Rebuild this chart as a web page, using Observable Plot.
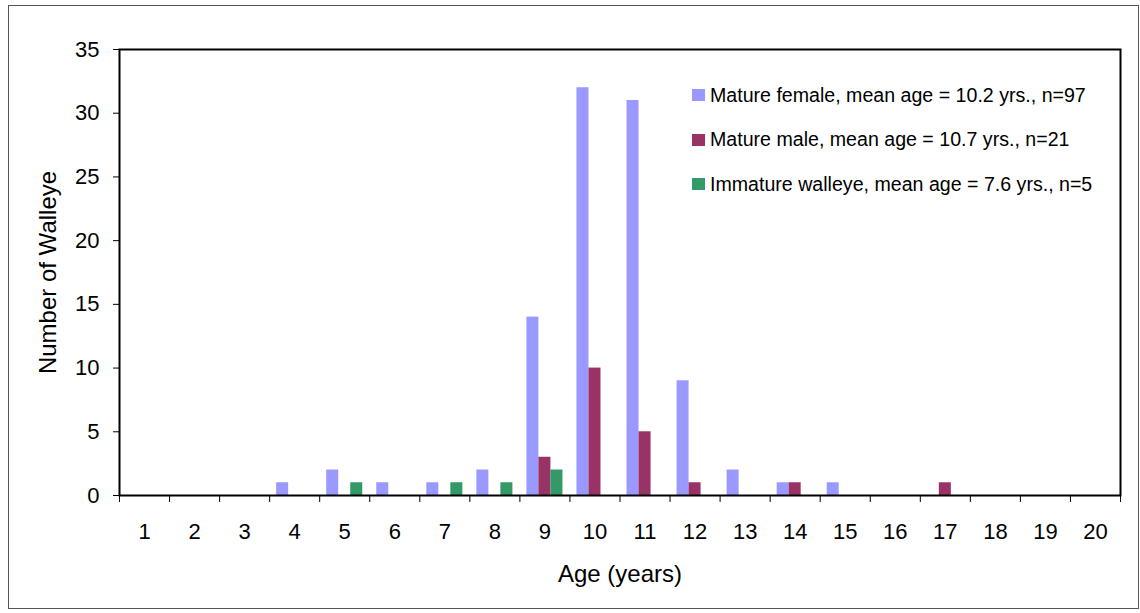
<!DOCTYPE html>
<html>
<head>
<meta charset="utf-8">
<script src="https://cdn.jsdelivr.net/npm/d3@7"></script>
<script src="https://cdn.jsdelivr.net/npm/@observablehq/plot@0.6"></script>
<style>
  html, body { margin: 0; padding: 0; background: #fff; }
  #wrap { position: relative; width: 1140px; height: 613px; font-family: "Liberation Sans", Arial, sans-serif; }
  #border { position: absolute; left: 8px; top: 5px; width: 1129px; height: 602px; border: 1px solid #555; pointer-events: none; }
  #legend { position: absolute; left: 692px; top: 84px; }
  #legend .row { display: flex; align-items: center; height: 22px; margin-bottom: 22.5px; font-size: 19.6px; color: #000; white-space: nowrap; }
  #legend .sw { width: 13px; height: 12px; margin-right: 5px; flex: none; }
</style>
</head>
<body>
<div id="wrap">
  <div id="chart"></div>
  <div id="border"></div>
  <div id="legend"></div>
</div>
<script>
// Age classes (years)
const ages = [1, 2, 3, 4, 5, 6, 7, 8, 9, 10, 11, 12, 13, 14, 15, 16, 17, 18, 19, 20];

// Number of walleye in each age class
const matureFemale = [0, 0, 0, 1, 2, 1, 1, 2, 14, 32, 31, 9, 2, 1, 1, 0, 0, 0, 0, 0];
const matureMale   = [0, 0, 0, 0, 0, 0, 0, 0, 3, 10, 5, 1, 0, 1, 0, 0, 1, 0, 0, 0];
const immature     = [0, 0, 0, 0, 1, 0, 1, 1, 2, 0, 0, 0, 0, 0, 0, 0, 0, 0, 0, 0];

const seriesNames = [
  "Mature female, mean age = 10.2 yrs., n=97",
  "Mature male, mean age = 10.7 yrs., n=21",
  "Immature walleye, mean age = 7.6 yrs., n=5"
];
const seriesColors = ["#9999FF", "#993366", "#339966"];

const yTicks = [0, 5, 10, 15, 20, 25, 30, 35];

// Long-format table: one row per (series, age)
const seriesValues = [matureFemale, matureMale, immature];
const rows = seriesValues.flatMap((vals, slot) =>
  ages.map((age, j) => ({ age, value: vals[j], series: seriesNames[slot], slot }))
);

// Clustered bars: three bars share 72% of each age slot
const groupWidth = 0.72;
const barWidth = groupWidth / seriesNames.length;
const left = d => d.age - groupWidth / 2 + d.slot * barWidth;

// Boundaries between age classes carry the tick marks
const boundaries = [0, ...ages].map(a => a + 0.5);

const chart = Plot.plot({
  width: 1140,
  height: 613,
  marginLeft: 119,
  marginRight: 20,
  marginTop: 49,
  marginBottom: 118,
  style: { fontFamily: "'Liberation Sans', Arial, sans-serif", fontSize: "22px", color: "#000", background: "transparent" },
  x: { type: "linear", domain: [0.5, 20.5] },
  y: { domain: [0, 35] },
  color: { domain: seriesNames, range: seriesColors },
  marks: [
    Plot.rectY(rows.filter(d => d.value > 0), {
      x1: left,
      x2: d => left(d) + barWidth,
      y: "value",
      fill: "series"
    }),
    Plot.axisY({ ticks: yTicks, tickSize: 6, tickPadding: 14, label: null, strokeWidth: 1 }),
    Plot.axisX({ ticks: boundaries, tickSize: 7, tickFormat: () => "", label: null }),
    Plot.axisX({ ticks: ages, tickSize: 0, tickPadding: 28, tickFormat: d => String(d), label: null }),
    Plot.text(["Age (years)"], { frameAnchor: "bottom", dy: 79, text: d => d, fontSize: 24, lineAnchor: "middle" }),
    Plot.text(["Number of Walleye"], { frameAnchor: "left", dx: -71, rotate: -90, text: d => d, fontSize: 24, textAnchor: "middle", lineAnchor: "middle" }),
    Plot.frame({ stroke: "#000", strokeWidth: 2 })
  ]
});
document.getElementById("chart").append(chart);

// Legend
const legend = d3.select("#legend");
seriesNames.forEach((name, i) => {
  const row = legend.append("div").attr("class", "row");
  row.append("div").attr("class", "sw").style("background", seriesColors[i]);
  row.append("span").text(name);
});
</script>
</body>
</html>
